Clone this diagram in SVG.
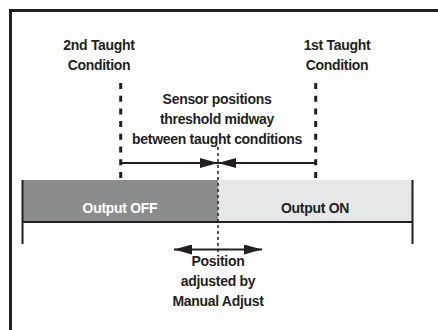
<svg xmlns="http://www.w3.org/2000/svg" width="438" height="330" viewBox="0 0 438 330">
<style>
.t{font-family:"Liberation Sans",Arial,sans-serif;font-weight:bold;font-size:14px;letter-spacing:-0.3px;fill:#231f20;text-anchor:middle}
.w{fill:#ffffff}
.ln{stroke:#231f20;fill:none}
.taught{stroke:#231f20;stroke-width:3;stroke-dasharray:6 6.7;fill:none}
.mid{stroke:#231f20;stroke-width:1.5;stroke-dasharray:3 3;fill:none}
</style>
<defs>
<marker id="ah" viewBox="0 0 18 10" refX="18" refY="5" markerWidth="18" markerHeight="10" markerUnits="userSpaceOnUse" orient="auto-start-reverse">
<path d="M0,0 L18,5 L0,10 Z" fill="#231f20"/>
</marker>
</defs>
<rect x="0" y="0" width="438" height="330" fill="#ffffff"/>
<g id="frame">
<path class="ln" stroke-width="3" d="M10.5,330 V10.5 H438"/>
</g>
<g id="bar">
<rect id="off" x="22" y="180" width="196" height="42" fill="#8b8c8e"/>
<rect id="on" x="218" y="180" width="195" height="42" fill="#e6e7e8"/>
<path class="ln" stroke-width="2" d="M22,222 H413"/>
<path class="ln" stroke-width="2" d="M22.5,180 V244 M412.5,180 V244"/>
<text class="t w" x="120" y="212.5">Output OFF</text>
<text class="t" x="315" y="212.5">Output ON</text>
</g>
<g id="taught2">
<text class="t" x="99" y="50">2nd Taught</text>
<text class="t" x="99" y="70">Condition</text>
</g>
<g id="taught1">
<text class="t" x="337" y="50">1st Taught</text>
<text class="t" x="337" y="70">Condition</text>
</g>
<g id="threshold">
<text class="t" x="217" y="104">Sensor positions</text>
<text class="t" x="217" y="124">threshold midway</text>
<text class="t" x="217" y="144">between taught conditions</text>
</g>
<g id="manual">
<text class="t" x="218" y="266">Position</text>
<text class="t" x="218" y="286">adjusted by</text>
<text class="t" x="218" y="306">Manual Adjust</text>
</g>
<g id="connectors">
<path class="taught" d="M120.7,83 V180"/>
<path class="taught" d="M315.7,83 V180"/>
<path class="mid" d="M218,147 V256"/>
<path class="ln" stroke-width="2" d="M120.7,163 H218" marker-end="url(#ah)"/>
<path class="ln" stroke-width="2" d="M315.7,163 H218" marker-end="url(#ah)"/>
<path class="ln" stroke-width="2" d="M174,249.5 H262" marker-start="url(#ah)" marker-end="url(#ah)"/>
</g>
</svg>
